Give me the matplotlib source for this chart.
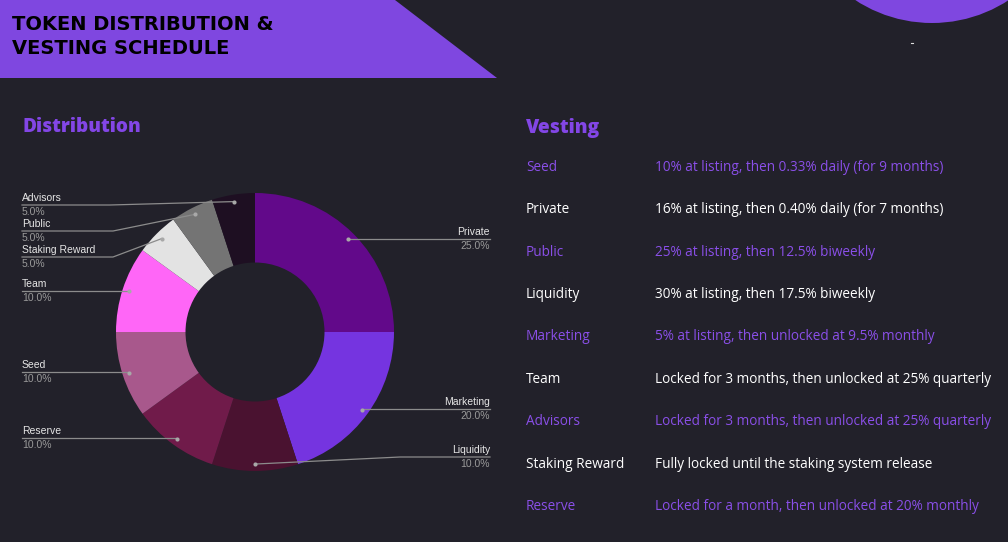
import numpy as np
import matplotlib.pyplot as plt
from matplotlib.patches import Polygon, Circle

# Distribution data (clockwise from top)
categories = ['Private', 'Marketing', 'Liquidity', 'Reserve', 'Seed',
              'Team', 'Staking Reward', 'Public', 'Advisors']
shares = [25.0, 20.0, 10.0, 10.0, 10.0, 10.0, 5.0, 5.0, 5.0]
colors = ['#62098A', '#7534E0', '#4A1230', '#701B4A', '#A8588C',
          '#FF66F7', '#E3E3E3', '#747474', '#1E0F22']

# Label layout: side, y of the label line (px), knee x (px)
label_side = ['r', 'r', 'r', 'l', 'l', 'l', 'l', 'l', 'l']
label_y = [239, 409, 457, 438, 372, 291, 257, 231, 205]
label_knee = [None, None, 400, None, None, None, 113, 113, 110]

# Vesting table
vest_names = ['Seed', 'Private', 'Public', 'Liquidity', 'Marketing',
              'Team', 'Advisors', 'Staking Reward', 'Reserve']
vest_terms = ['10% at listing, then 0.33% daily (for 9 months)',
              '16% at listing, then 0.40% daily (for 7 months)',
              '25% at listing, then 12.5% biweekly',
              '30% at listing, then 17.5% biweekly',
              '5% at listing, then unlocked at 9.5% monthly',
              'Locked for 3 months, then unlocked at 25% quarterly',
              'Locked for 3 months, then unlocked at 25% quarterly',
              'Fully locked until the staking system release',
              'Locked for a month, then unlocked at 20% monthly']

BG = '#22212A'
PURPLE = '#7F47E0'
W, H = 1008, 542

fig = plt.figure(figsize=(W / 100, H / 100), dpi=100, facecolor=BG)

# background axes in pixel coords
bg = fig.add_axes([0, 0, 1, 1])
bg.set_xlim(0, W)
bg.set_ylim(H, 0)
bg.axis('off')
bg.set_facecolor(BG)
bg.add_patch(Polygon([(0, 0), (395, 0), (497, 78), (0, 78)], closed=True,
                     color=PURPLE, lw=0))
bg.add_patch(Circle((932, -117), 140, color=PURPLE, lw=0))
bg.plot([911, 913], [43, 43], color='#dddddd', lw=0.8)

bg.text(12, 24, 'TOKEN DISTRIBUTION &', fontsize=14, fontweight='heavy',
        family='DejaVu Sans', color='black', va='center', ha='left')
bg.text(12, 48, 'VESTING SCHEDULE', fontsize=14, fontweight='heavy',
        family='DejaVu Sans', color='black', va='center', ha='left')

bg.text(22, 127, 'Distribution', fontsize=13.7, fontweight='heavy',
        family='Open Sans', color='#8346E6', va='center')
bg.text(526, 128, 'Vesting', fontsize=13.8, fontweight='heavy',
        family='Open Sans', color='#8346E6', va='center')

row_y = np.linspace(167.5, 506.5, len(vest_names))
for i, (name, term) in enumerate(zip(vest_names, vest_terms)):
    c = '#8A4FE8' if i % 2 == 0 else '#FFFFFF'
    bg.text(526, row_y[i], name, fontsize=9.85, family='Open Sans', color=c, va='center')
    bg.text(655, row_y[i], term, fontsize=9.85, family='Open Sans', color=c, va='center')

# donut
cx, cy, R = 255, 332, 139
pax = fig.add_axes([(cx - R) / W, (H - cy - R) / H, 2 * R / W, 2 * R / H])
pax.pie(shares, colors=colors, startangle=90, counterclock=False,
        radius=1.0, wedgeprops=dict(width=0.5, linewidth=0))
pax.set_xlim(-1, 1)
pax.set_ylim(-1, 1)
pax.set_aspect('auto')
pax.axis('off')

# overlay for labels
ov = fig.add_axes([0, 0, 1, 1])
ov.set_xlim(0, W)
ov.set_ylim(H, 0)
ov.axis('off')
ov.patch.set_alpha(0)

total = sum(shares)
cum = np.cumsum(shares)
LINE = '#8C8C8C'
for i, name in enumerate(categories):
    theta = np.deg2rad(360 * (cum[i] - shares[i] / 2) / total)
    dx = cx + 0.95 * R * np.sin(theta)
    dy = cy - 0.95 * R * np.cos(theta)
    ly = label_y[i]
    knee = label_knee[i]
    if label_side[i] == 'l':
        xs = [22, knee if knee else dx, dx]
        ys = [ly, ly, dy]
        tx, ha = 22, 'left'
    else:
        xs = [dx, knee if knee else dx, 490]
        ys = [dy, ly, ly]
        tx, ha = 490, 'right'
    ov.plot(xs, ys, color=LINE, lw=0.9)
    ov.plot(dx, dy, 'o', color='#A8A8A8', ms=3, mec='none')
    ov.text(tx, ly - 2, name, fontsize=7.5, family='Liberation Sans',
            color='#E6E6E6', ha=ha, va='bottom')
    ov.text(tx, ly + 2, f'{shares[i]:.1f}%', fontsize=7.5, family='Liberation Sans',
            color='#9A9A9A', ha=ha, va='top')

fig.savefig('out.png', dpi=100, facecolor=BG)
